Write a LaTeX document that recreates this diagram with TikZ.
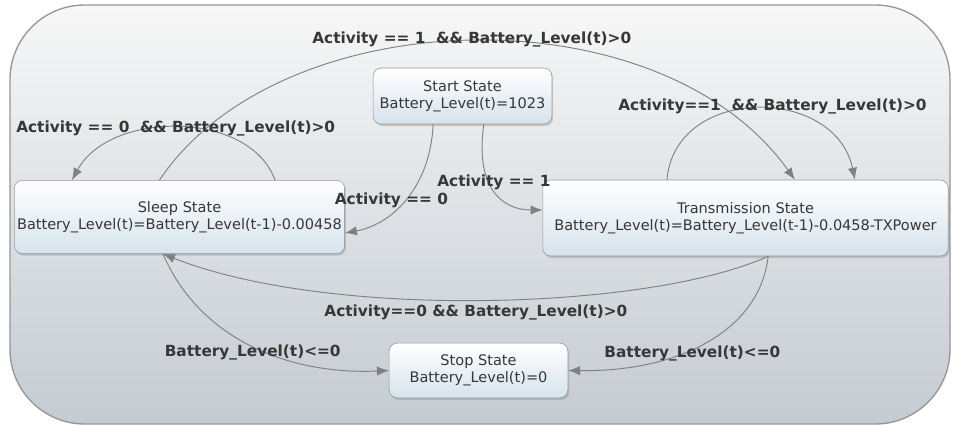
\documentclass[tikz,border=0pt]{standalone}
\usepackage{fontspec}
\setmainfont{DejaVu Sans}
\usetikzlibrary{arrows.meta,calc,positioning,shadows}
\definecolor{frameColor}{RGB}{150,150,150}
\definecolor{bgTopColor}{RGB}{247,247,247}
\definecolor{bgBottomColor}{RGB}{196,203,210}
\definecolor{stateColor}{RGB}{214,227,237}
\definecolor{lineColor}{RGB}{128,128,128}
\definecolor{textColor}{RGB}{55,55,55}
\tikzset{stateNode/.append style={top color=white, bottom color=stateColor, draw=frameColor, align=center, inner sep=2pt, rounded corners=6pt, text=textColor, font=\fontsize{10.9}{13}\selectfont, drop shadow={opacity=0.35, shadow xshift=1pt, shadow yshift=-1.5pt}}}
\tikzset{transition/.style={font=\bfseries\fontsize{11.5}{13}\selectfont, text=textColor}}
\tikzset{edge/.style={draw=lineColor, line width=0.7pt, -{Latex[length=9pt, width=7pt]}}}

\begin{document}
\begin{tikzpicture}[x=0.75pt, y=-0.75pt]
	\useasboundingbox (0,0) rectangle (953,428);
	% Background
	\shade[top color=bgTopColor, bottom color=bgBottomColor, draw=frameColor, line width=1pt, rounded corners=56pt] (10,5) rectangle (950,424);

	% Nodes
	\node (start) [stateNode, minimum width=134pt, minimum height=42pt] at (462.5,96) {Start State\\ Battery\_Level(t)=1023};
	\node (sleep) [stateNode, minimum width=247pt, minimum height=55pt] at (179.5,217) {Sleep State\\ Battery\_Level(t)=Battery\_Level(t-1)-0.00458};
	\node (trans) [stateNode, minimum width=304pt, minimum height=57pt] at (745.5,218) {Transmission State\\ Battery\_Level(t)=Battery\_Level(t-1)-0.0458-TXPower};
	\node (stop) [stateNode, minimum width=134pt, minimum height=41pt] at (478.5,370.5) {Stop State\\ Battery\_Level(t)=0};

	% Connectors
	\draw [edge] ([xshift=-15pt]sleep.north) .. controls (280,0) and (660,-10) .. node[transition, yshift=1pt] {Activity == 1\ \ \&\& Battery\_Level(t)>0} ([xshift=37pt]trans.north);

	\draw [edge] ([xshift=71.6pt]sleep.north) .. controls (250,110) and (110,110) .. node[transition, xshift=-2pt, yshift=-1pt] {Activity == 0\ \ \&\& Battery\_Level(t)>0} ([xshift=-80.6pt]sleep.north);

	\draw [edge] ([xshift=-58.9pt]trans.north) .. controls (675,85) and (835,85) .. node[transition, xshift=12pt, yshift=2pt] {Activity==1\ \ \&\& Battery\_Level(t)>0} ([xshift=82.1pt]trans.north);

	\draw [edge] ([xshift=-22pt]start.south) .. controls (430,190) and (390,225) .. node[transition, xshift=-10pt] {Activity == 0} ([yshift=-12pt]sleep.east);

	\draw [edge] ([xshift=16pt]start.south) .. controls (475,185) and (500,210) .. node[transition, yshift=6pt] {Activity == 1} ([yshift=6pt]trans.west);

	\draw [edge] ([xshift=17pt]trans.south) .. controls (650,310) and (330,320) .. node[transition, xshift=-6pt, yshift=-9pt] {Activity==0 \&\& Battery\_Level(t)>0} ([xshift=-12.4pt]sleep.south);

	\draw [edge] ([xshift=-12.4pt]sleep.south) .. controls (200,340) and (290,375) .. node[transition, yshift=-5pt] {Battery\_Level(t)<=0} (stop.west);

	\draw [edge] ([xshift=17pt]trans.south) .. controls (760,330) and (680,372) .. node[transition, xshift=-11pt, yshift=-9pt] {Battery\_Level(t)<=0} (stop.east);

\end{tikzpicture}
\end{document}
